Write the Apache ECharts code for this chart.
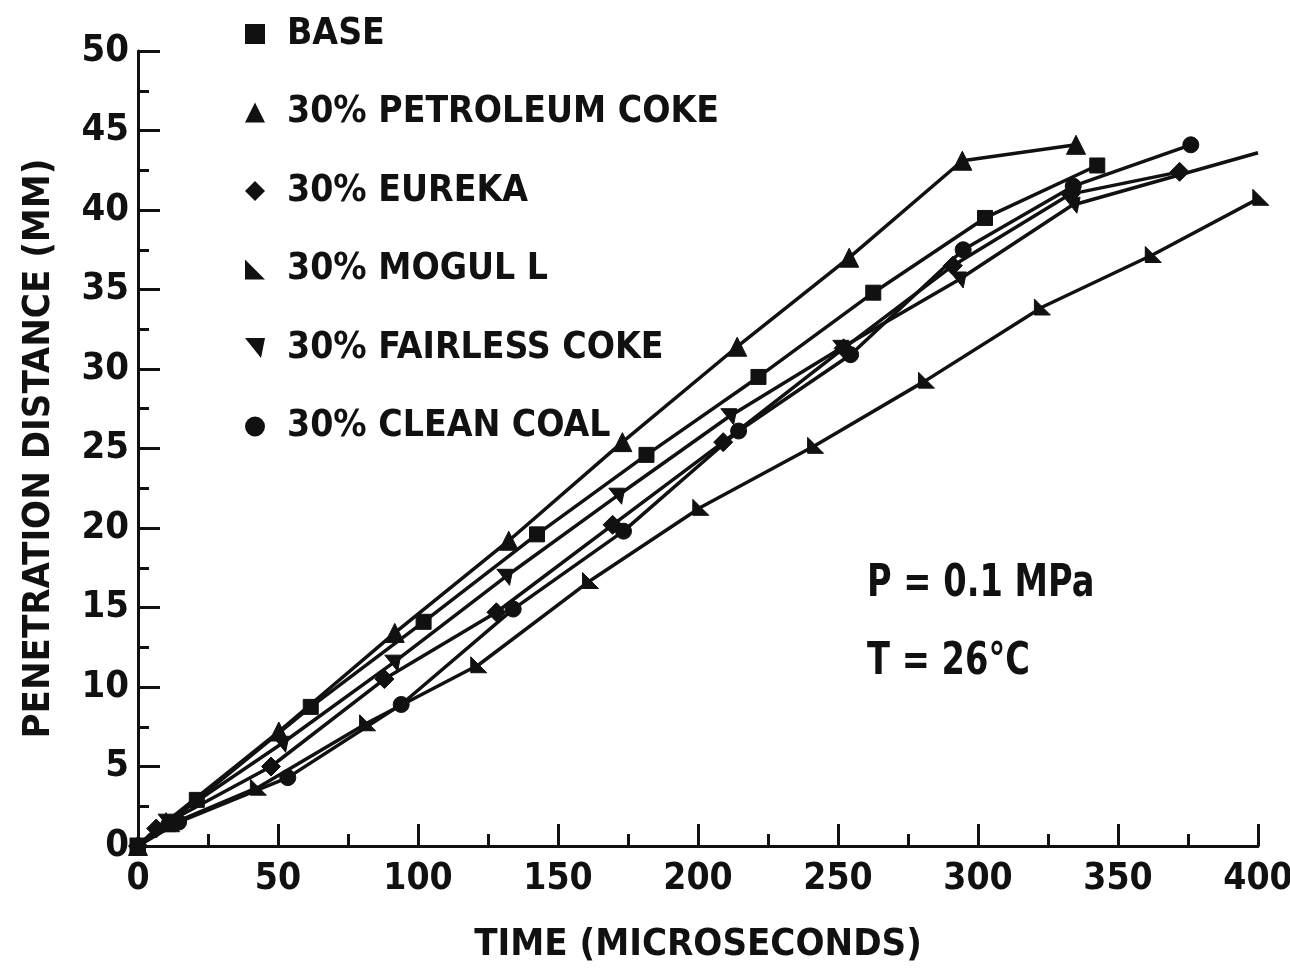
<!DOCTYPE html>
<html>
<head>
<meta charset="utf-8">
<script src="https://cdn.jsdelivr.net/npm/echarts@6/dist/echarts.min.js"></script>
<style>
  html, body { margin: 0; padding: 0; background: #fff; }
  #chart { width: 1290px; height: 973px; }
</style>
</head>
<body>
<div id="chart"></div>
<script>
// ---- data ----
const seriesNames = ['BASE', '30% PETROLEUM COKE', '30% EUREKA', '30% MOGUL L', '30% FAIRLESS COKE', '30% CLEAN COAL'];

const timeBase = [0, 21, 61.7, 102, 142.5, 181.6, 221.6, 262.6, 302.5, 342.6];
const distBase = [0, 2.9, 8.75, 14.1, 19.6, 24.6, 29.5, 34.8, 39.5, 42.8];

const timePet = [0, 10, 50.3, 91.7, 132.4, 173, 214, 254, 294.4, 335];
const distPet = [0, 1.5, 7.2, 13.4, 19.2, 25.4, 31.4, 37.0, 43.1, 44.1];

const timeEur = [0, 6.5, 47.5, 88, 128, 169.5, 209, 252, 291, 333, 372];
const distEur = [0, 1.1, 5.0, 10.5, 14.7, 20.2, 25.4, 31.3, 36.5, 41.0, 42.4];

const timeMog = [0, 12, 43, 82, 121.7, 161.6, 201, 242, 281.6, 323, 362.6, 401];
const distMog = [0, 1.4, 3.7, 7.75, 11.4, 16.7, 21.3, 25.2, 29.3, 33.9, 37.2, 40.8];

const timeFair = [0, 10, 51, 91, 131, 171, 211, 251, 293, 333.6, 400];
const distFair = [0, 1.5, 6.4, 11.5, 16.9, 22.0, 27.0, 31.3, 35.6, 40.3, 43.6];
const fairUnmarkedLast = true; // final fairless point drawn without a marker

const timeClean = [0, 14.5, 53.5, 94, 134, 173.4, 214.5, 254.5, 294.7, 334, 376];
const distClean = [0, 1.5, 4.3, 8.9, 14.9, 19.8, 26.1, 30.9, 37.5, 41.5, 44.1];

const xTicks = [0, 50, 100, 150, 200, 250, 300, 350, 400];
const yTicks = [0, 5, 10, 15, 20, 25, 30, 35, 40, 45, 50];

const xTitle = 'TIME (MICROSECONDS)';
const yTitle = 'PENETRATION DISTANCE (MM)';
const noteP = 'P = 0.1 MPa';
const noteT = 'T = 26°C';

// ---- chart ----
const FONT = '"Liberation Sans Narrow", "DejaVu Sans Condensed", "Arial Narrow", sans-serif';
const INK = '#111';

const symMogul = 'path://M0,0 L0,10 L10,10 Z';
const symFair = 'path://M0,0 L10,0 L8,10 Z';

function pairs(xs, ys) { return xs.map((x, i) => [x, ys[i]]); }

const fairData = pairs(timeFair, distFair).map((p, i, arr) =>
  (fairUnmarkedLast && i === arr.length - 1) ? { value: p, symbol: 'none' } : p);

const specs = [
  { name: seriesNames[0], data: pairs(timeBase, distBase), symbol: 'rect', size: 15 },
  { name: seriesNames[1], data: pairs(timePet, distPet), symbol: 'triangle', size: 19 },
  { name: seriesNames[2], data: pairs(timeEur, distEur), symbol: 'diamond', size: 19 },
  { name: seriesNames[3], data: pairs(timeMog, distMog), symbol: symMogul, size: 16 },
  { name: seriesNames[4], data: fairData, symbol: symFair, size: 16 },
  { name: seriesNames[5], data: pairs(timeClean, distClean), symbol: 'circle', size: 16 }
];

const legendIcons = ['rect', 'triangle', 'diamond', symMogul, symFair, 'circle'];

const chart = echarts.init(document.getElementById('chart'), null, { renderer: 'canvas' });

const option = {
  backgroundColor: '#fff',
  animation: false,
  grid: { left: 138, right: 32, top: 51, bottom: 127, containLabel: false, outerBoundsMode: 'none' },
  legend: {
    orient: 'vertical',
    left: 240,
    top: 9,
    itemGap: 38.5,
    itemWidth: 20,
    itemHeight: 20,
    selectedMode: false,
    data: seriesNames.map((n, i) => ({ name: n, icon: legendIcons[i], itemStyle: { color: INK } })),
    textStyle: {
      fontFamily: FONT, fontWeight: 'bold', fontSize: 37, color: INK,
      lineHeight: 40, padding: [0, 0, 0, 17]
    }
  },
  xAxis: {
    type: 'value', min: 0, max: 400, interval: 50,
    name: xTitle, nameLocation: 'middle', nameGap: 80,
    nameTextStyle: { fontFamily: FONT, fontWeight: 'bold', fontSize: 38, color: INK },
    axisLine: { show: true, onZero: false, lineStyle: { color: INK, width: 3 } },
    axisTick: { show: true, inside: true, length: 22, lineStyle: { color: INK, width: 3 } },
    minorTick: { show: true, splitNumber: 2, length: 12, lineStyle: { color: INK, width: 3 } },
    splitLine: { show: false },
    axisLabel: {
      fontFamily: FONT, fontWeight: 'bold', fontSize: 37, color: INK, margin: 15,
      formatter: v => (xTicks.includes(v) ? String(v) : '')
    }
  },
  yAxis: {
    type: 'value', min: 0, max: 50, interval: 5,
    name: yTitle, nameLocation: 'middle', nameGap: 80, nameRotate: 90,
    nameTextStyle: { fontFamily: FONT, fontWeight: 'bold', fontSize: 38, color: INK },
    axisLine: { show: true, onZero: false, lineStyle: { color: INK, width: 3 } },
    axisTick: { show: true, inside: true, length: 22, lineStyle: { color: INK, width: 3 } },
    minorTick: { show: true, splitNumber: 2, length: 11, lineStyle: { color: INK, width: 3 } },
    splitLine: { show: false },
    axisLabel: {
      fontFamily: FONT, fontWeight: 'bold', fontSize: 38, color: INK, margin: 9,
      formatter: v => (yTicks.includes(v) ? String(v) : '')
    }
  },
  series: specs.map(s => ({
    type: 'line',
    name: s.name,
    data: s.data,
    symbol: s.symbol,
    symbolSize: s.size,
    showAllSymbol: true,
    clip: false,
    lineStyle: { color: INK, width: 3.5 },
    itemStyle: { color: INK, borderColor: INK },
    emphasis: { disabled: true }
  })),
  graphic: [
    { type: 'text', left: 867, top: 563, scaleX: 0.85,
      style: { text: noteP, font: 'bold 44px ' + FONT, fill: INK } },
    { type: 'text', left: 867, top: 641, scaleX: 0.85,
      style: { text: noteT, font: 'bold 44px ' + FONT, fill: INK } }
  ]
};

chart.setOption(option);
</script>
</body>
</html>
